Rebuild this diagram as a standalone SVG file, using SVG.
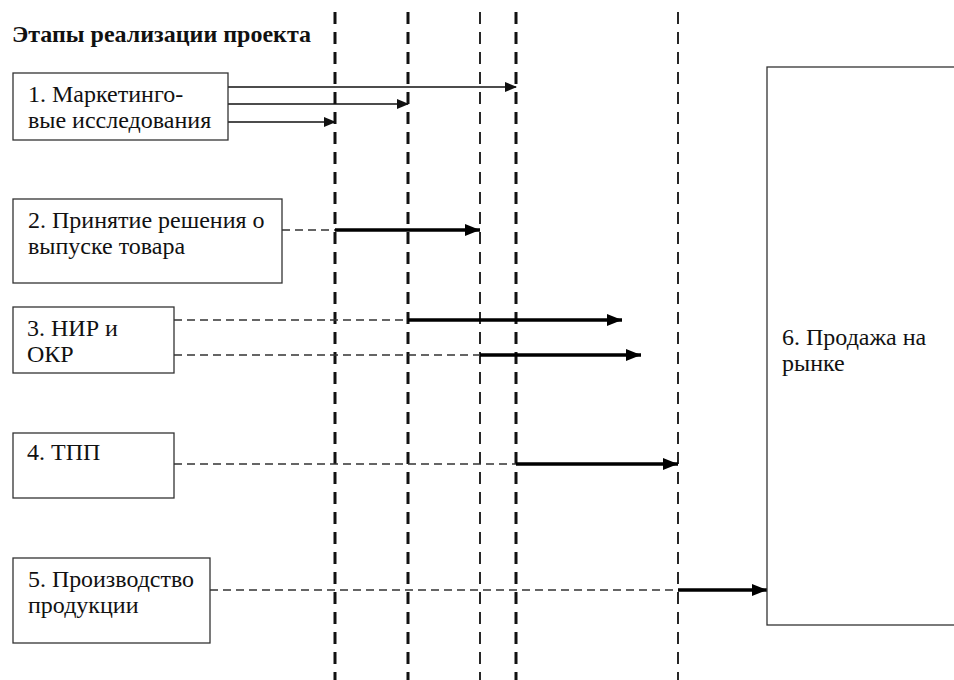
<svg xmlns="http://www.w3.org/2000/svg" width="954" height="680" viewBox="0 0 954 680">
<style>
.box{fill:#fff;stroke:#333;stroke-width:1.3}
.t{font-family:'Liberation Serif','Times New Roman',serif;font-size:24px;fill:#111}
.title{font-family:'Liberation Serif','Times New Roman',serif;font-size:24px;font-weight:bold;fill:#111}
.vthick{stroke:#111;stroke-width:3;stroke-dasharray:12 8;fill:none}
.vthin{stroke:#111;stroke-width:1.8;stroke-dasharray:12 8;fill:none}
.dash{stroke:#333;stroke-width:1.3;stroke-dasharray:8 5;fill:none}
.thin{stroke:#111;stroke-width:1.5;fill:none;marker-end:url(#ah)}
.bold{stroke:#000;stroke-width:3.5;fill:none;marker-end:url(#ahb)}
</style>
<defs>
<marker id="ah" markerWidth="12" markerHeight="10" refX="11" refY="5" orient="auto" markerUnits="userSpaceOnUse">
<path d="M0,0 L12,5 L0,10 Z" fill="#111"/>
</marker>
<marker id="ahb" markerWidth="15" markerHeight="12" refX="15" refY="6" orient="auto" markerUnits="userSpaceOnUse">
<path d="M0,0 L15,6 L0,12 Z" fill="#000"/>
</marker>
</defs>
<rect width="954" height="680" fill="#fff"/>
<text class="title" x="12" y="42">Этапы реализации проекта</text>
<g id="milestones">
<line class="vthick" x1="335" y1="12" x2="335" y2="680"/>
<line class="vthick" x1="408" y1="12" x2="408" y2="680"/>
<line class="vthin" x1="480" y1="12" x2="480" y2="680"/>
<line class="vthick" x1="516" y1="12" x2="516" y2="680"/>
<line class="vthin" x1="678" y1="12" x2="678" y2="680"/>
</g>
<g id="connectors">
<line class="thin" x1="228" y1="87" x2="516" y2="87"/>
<line class="thin" x1="228" y1="104" x2="408" y2="104"/>
<line class="thin" x1="228" y1="122" x2="335" y2="122"/>
<line class="dash" x1="282" y1="230" x2="335" y2="230"/>
<line class="bold" x1="335" y1="230" x2="480" y2="230"/>
<line class="dash" x1="174" y1="320" x2="408" y2="320"/>
<line class="bold" x1="408" y1="320" x2="622" y2="320"/>
<line class="dash" x1="174" y1="355" x2="480" y2="355"/>
<line class="bold" x1="480" y1="355" x2="641" y2="355"/>
<line class="dash" x1="174" y1="464" x2="516" y2="464"/>
<line class="bold" x1="516" y1="464" x2="678" y2="464"/>
<line class="dash" x1="210" y1="590" x2="678" y2="590"/>
<line class="bold" x1="678" y1="590" x2="767" y2="590"/>
</g>
<g id="node1">
<rect class="box" x="13" y="73" width="215" height="67"/>
<text class="t" x="28" y="102">1. Маркетинго-</text>
<text class="t" x="28" y="128">вые исследования</text>
</g>
<g id="node2">
<rect class="box" x="13" y="199" width="269" height="84"/>
<text class="t" x="28" y="228">2. Принятие решения о</text>
<text class="t" x="28" y="254">выпуске товара</text>
</g>
<g id="node3">
<rect class="box" x="13" y="307" width="161" height="66"/>
<text class="t" x="27" y="336">3. НИР и</text>
<text class="t" x="27" y="362">ОКР</text>
</g>
<g id="node4">
<rect class="box" x="13" y="433" width="161" height="65"/>
<text class="t" x="27" y="460">4. ТПП</text>
</g>
<g id="node5">
<rect class="box" x="13" y="558" width="197" height="85"/>
<text class="t" x="28" y="587" textLength="166" lengthAdjust="spacingAndGlyphs">5. Производство</text>
<text class="t" x="28" y="613">продукции</text>
</g>
<g id="node6">
<rect class="box" x="767" y="67" width="200" height="558"/>
<text class="t" x="782" y="345">6. Продажа на</text>
<text class="t" x="782" y="371">рынке</text>
</g>
</svg>
